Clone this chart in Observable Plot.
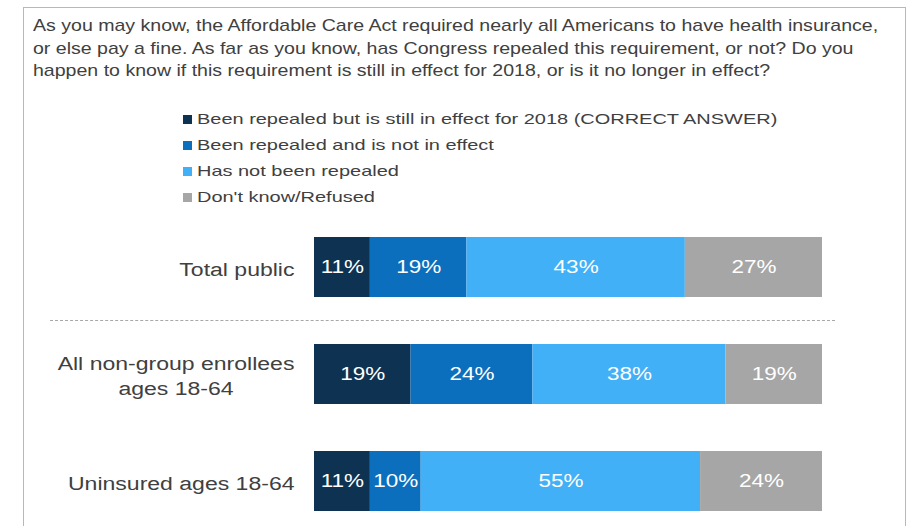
<!DOCTYPE html>
<html>
<head>
<meta charset="utf-8">
<script src="https://cdn.jsdelivr.net/npm/d3@7"></script>
<script src="https://cdn.jsdelivr.net/npm/@observablehq/plot@0.6"></script>
<style>
  html, body { margin: 0; padding: 0; background: #fff; }
  body { width: 911px; height: 526px; overflow: hidden; position: relative; font-family: "Liberation Sans", Arial, sans-serif; color: #404040; }
  #frame { position: absolute; left: 23px; top: 7px; width: 883px; height: 560px; border: 1.5px solid #a7bbd1; box-sizing: border-box; }
  #title { position: absolute; left: 33px; top: 15px; font-size: 17px; line-height: 22.5px; white-space: nowrap; color: #404040; transform: scaleX(1.15); transform-origin: 0 0; }
  #legend { position: absolute; left: 183px; top: 106px; font-size: 15px; line-height: 26px; color: #404040; }
  .item { display: flex; align-items: center; white-space: nowrap; height: 26px; }
  .sw { width: 9px; height: 9px; margin-right: 5px; display: inline-block; flex: none; }
  .lt { display: inline-block; transform: scaleX(1.33); transform-origin: 0 50%; }
  #sep { position: absolute; left: 50px; width: 785px; top: 320px; border-top: 1.5px dashed #a8a8a8; }
  #chart { position: absolute; left: 0; top: 215px; }
</style>
</head>
<body>
<div id="frame"></div>
<div id="title"></div>
<div id="legend"></div>
<div id="sep"></div>
<div id="chart"></div>
<script>
const titleLines = [
  "As you may know, the Affordable Care Act required nearly all Americans to have health insurance,",
  "or else pay a fine. As far as you know, has Congress repealed this requirement, or not? Do you",
  "happen to know if this requirement is still in effect for 2018, or is it no longer in effect?"
];
const groups = ["Total public", "All non-group enrollees\nages 18-64", "Uninsured ages 18-64"];
const responses = [
  "Been repealed but is still in effect for 2018 (CORRECT ANSWER)",
  "Been repealed and is not in effect",
  "Has not been repealed",
  "Don't know/Refused"
];
const colors = ["#0e3352", "#0b6fbd", "#42b0f6", "#a6a6a6"];
const correctAnswer = [11, 19, 11];
const repealedNotInEffect = [19, 24, 10];
const notRepealed = [43, 38, 55];
const dontKnow = [27, 19, 24];

const series = [correctAnswer, repealedNotInEffect, notRepealed, dontKnow];
const data = [];
groups.forEach((g, gi) => series.forEach((s, si) => data.push({group: g, response: responses[si], value: s[gi]})));

document.getElementById("title").innerHTML = titleLines.join("<br>");
const legend = document.getElementById("legend");
responses.forEach((r, i) => {
  const d = document.createElement("div");
  d.className = "item";
  d.innerHTML = `<span class="sw" style="background:${colors[i]}"></span><span class="lt"></span>`;
  d.lastChild.textContent = r;
  legend.appendChild(d);
});

const chart = Plot.plot({
  width: 911,
  height: 311,
  marginLeft: 314,
  marginRight: 89,
  marginTop: 0,
  marginBottom: 0,
  style: {fontFamily: "Liberation Sans, Arial, sans-serif", background: "transparent"},
  x: {domain: [0, 100], axis: null},
  y: {domain: groups, range: [21, 298], paddingInner: 0.435, paddingOuter: 0, axis: null},
  color: {domain: responses, range: colors},
  marks: [
    Plot.barX(data, Plot.stackX({x: "value", y: "group", fill: "response", order: responses})),
    Plot.text(data, Plot.stackX({x: "value", y: "group", z: "response", order: responses,
      text: d => d.value + "%", fill: "white", fontSize: 18})),
    Plot.text(groups, {y: d => d, frameAnchor: "left", dx: -20, textAnchor: "end",
      fontSize: 18, fill: "#404040", lineHeight: 1.39})
  ]
});
document.getElementById("chart").appendChild(chart);

// emulate the horizontally stretched lettering of the original picture
d3.select(chart).selectAll("text").each(function() {
  const t = this.getAttribute("transform") || "";
  const isLabel = this.getAttribute("fill") === "#404040" || (this.parentNode && this.parentNode.getAttribute("fill") === "#404040");
  const tspans = this.querySelectorAll("tspan");
  if (tspans.length > 1) {
    let w = 0;
    tspans.forEach(ts => { w = Math.max(w, ts.getComputedTextLength()); });
    this.setAttribute("text-anchor", "middle");
    tspans.forEach(ts => ts.setAttribute("x", -w / 2));
  }
  this.setAttribute("transform", t + (isLabel ? " scale(1.28,1)" : " scale(1.25,1)"));
});
</script>
</body>
</html>
